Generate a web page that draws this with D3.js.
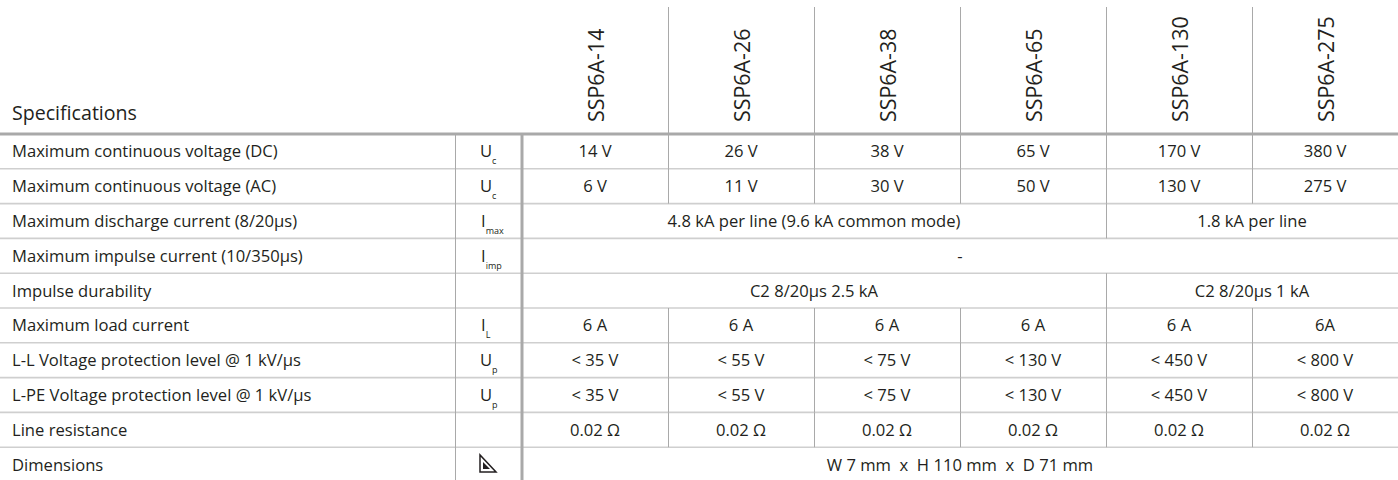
<!DOCTYPE html>
<html>
<head>
<meta charset="utf-8">
<script src="https://cdn.jsdelivr.net/npm/d3@7"></script>
<style>
    html, body { margin: 0; padding: 0; background: #fff; }
    svg { display: block; }
    text { font-family: "Open Sans", "Noto Sans", sans-serif; fill: #231f20; }
</style>
</head>
<body>
<div id="content"></div>
<script>
// ======= data =======
var models = ["SSP6A-14", "SSP6A-26", "SSP6A-38", "SSP6A-65", "SSP6A-130", "SSP6A-275"];
var specLabels = [
    "Maximum continuous voltage (DC)",
    "Maximum continuous voltage (AC)",
    "Maximum discharge current (8/20\u00b5s)",
    "Maximum impulse current (10/350\u00b5s)",
    "Impulse durability",
    "Maximum load current",
    "L-L Voltage protection level @ 1 kV/\u00b5s",
    "L-PE Voltage protection level @ 1 kV/\u00b5s",
    "Line resistance",
    "Dimensions"
];
var symbolMain = ["U", "U", "I", "I", "", "I", "U", "U", "", "icon"];
var symbolSub = ["c", "c", "max", "imp", "", "L", "p", "p", "", ""];

// each cell: [text, number of model columns it spans]
var dcVoltage = [["14 V", 1], ["26 V", 1], ["38 V", 1], ["65 V", 1], ["170 V", 1], ["380 V", 1]];
var acVoltage = [["6 V", 1], ["11 V", 1], ["30 V", 1], ["50 V", 1], ["130 V", 1], ["275 V", 1]];
var dischargeCurrent = [["4.8 kA per line (9.6 kA common mode)", 4], ["1.8 kA per line", 2]];
var impulseCurrent = [["-", 6]];
var impulseDurability = [["C2 8/20\u00b5s 2.5 kA", 4], ["C2 8/20\u00b5s 1 kA", 2]];
var loadCurrent = [["6 A", 1], ["6 A", 1], ["6 A", 1], ["6 A", 1], ["6 A", 1], ["6A", 1]];
var llProtection = [["< 35 V", 1], ["< 55 V", 1], ["< 75 V", 1], ["< 130 V", 1], ["< 450 V", 1], ["< 800 V", 1]];
var lpeProtection = [["< 35 V", 1], ["< 55 V", 1], ["< 75 V", 1], ["< 130 V", 1], ["< 450 V", 1], ["< 800 V", 1]];
var lineResistance = [["0.02 \u03a9", 1], ["0.02 \u03a9", 1], ["0.02 \u03a9", 1], ["0.02 \u03a9", 1], ["0.02 \u03a9", 1], ["0.02 \u03a9", 1]];
var dimensions = [["W 7 mm  x  H 110 mm  x  D 71 mm", 6]];
var rowValues = [dcVoltage, acVoltage, dischargeCurrent, impulseCurrent, impulseDurability,
    loadCurrent, llProtection, lpeProtection, lineResistance, dimensions];

// ======= formatting =======
var width = 1398;
var height = 480;
var headerTop = 7;
var headerBottom = 134;
var rowHeight = 34.8;
var symLeft = 455;
var valLeft = 522;
var symX = 480;
var lineDark = "#a9a9a9";
var lineLight = "#cfcfcf";
var bodyFont = "16.6px";

// ======= scales =======
var xScale = d3.scaleBand()
    .domain(models)
    .range([valLeft, width]);
var yScale = d3.scaleBand()
    .domain(d3.range(specLabels.length))
    .range([headerBottom, headerBottom + rowHeight * specLabels.length]);

// ======= elements =======
var svg = d3.select("#content")
    .append("svg")
        .attr("width", width)
        .attr("height", height);

// ======= row lines =======
svg.append("g")
    .selectAll("line")
    .data(d3.range(1, specLabels.length))
    .enter()
    .append("line")
        .attr("x1", 0)
        .attr("x2", width)
        .attr("y1", function(d) { return yScale(d); })
        .attr("y2", function(d) { return yScale(d); })
        .style("stroke", lineLight)
        .style("stroke-width", 1.6);

// ======= vertical cell lines =======
rowValues.forEach(function(cells, r) {
    var col = 0;
    cells.forEach(function(cell) {
        col += cell[1];
        if (col < models.length) {
            var x = Math.round(xScale(models[col])) + 0.5;
            svg.append("line")
                .attr("x1", x).attr("x2", x)
                .attr("y1", yScale(r))
                .attr("y2", yScale(r) + rowHeight)
                .style("stroke", lineDark)
                .style("stroke-width", 1);
        }
    });
});

// header column lines
svg.append("g")
    .selectAll("line")
    .data(models.slice(1))
    .enter()
    .append("line")
        .attr("x1", function(d) { return Math.round(xScale(d)) + 0.5; })
        .attr("x2", function(d) { return Math.round(xScale(d)) + 0.5; })
        .attr("y1", headerTop)
        .attr("y2", headerBottom)
        .style("stroke", lineDark)
        .style("stroke-width", 1);

// symbol column line
svg.append("line")
    .attr("x1", symLeft + 0.5).attr("x2", symLeft + 0.5)
    .attr("y1", headerBottom).attr("y2", height)
    .style("stroke", lineDark)
    .style("stroke-width", 1);

// thick value divider
svg.append("line")
    .attr("x1", valLeft).attr("x2", valLeft)
    .attr("y1", headerBottom).attr("y2", height)
    .style("stroke", lineDark)
    .style("stroke-width", 3);

// header line
svg.append("line")
    .attr("x1", 0).attr("x2", width)
    .attr("y1", headerBottom).attr("y2", headerBottom)
    .style("stroke", lineDark)
    .style("stroke-width", 3);

// ======= header text =======
svg.append("text")
    .attr("x", 12)
    .attr("y", 120)
    .style("font-size", "19.6px")
    .text("Specifications");

svg.append("g")
    .selectAll("text")
    .data(models)
    .enter()
    .append("text")
        .attr("transform", function(d) {
            return "translate(" + (xScale(d) + xScale.bandwidth() / 2 + 9) + ",122) rotate(-90)";
        })
        .style("font-size", "21.4px")
        .style("text-anchor", "start")
        .text(function(d) { return d; });

// ======= labels =======
svg.append("g")
    .selectAll("text")
    .data(specLabels)
    .enter()
    .append("text")
        .attr("x", 12)
        .attr("y", function(d, i) { return yScale(i) + rowHeight / 2 + 6; })
        .style("font-size", bodyFont)
        .text(function(d) { return d; });

// ======= symbols =======
symbolMain.forEach(function(s, i) {
    var yMid = yScale(i) + rowHeight / 2;
    if (s === "icon") {
        var g = svg.append("g");
        g.append("path")
            .attr("d", "M480,455 L480,472 L496,472 Z")
            .style("fill", "none")
            .style("stroke", "#231f20")
            .style("stroke-width", 1.5)
            .style("stroke-linejoin", "miter");
        g.append("path")
            .attr("d", "M483,462 L483,469 L490,469 Z")
            .style("fill", "#231f20");
    } else if (s !== "") {
        var t = svg.append("text")
            .attr("x", s === "I" ? symX + 1 : symX)
            .attr("y", yMid + 6)
            .style("font-size", bodyFont)
            .style("text-anchor", "start");
        t.append("tspan").text(s);
        t.append("tspan")
            .attr("dy", 7)
            .style("font-size", "9px")
            .text(symbolSub[i]);
    }
});

// ======= values =======
rowValues.forEach(function(cells, r) {
    var col = 0;
    cells.forEach(function(cell) {
        var x0 = xScale(models[col]);
        var x1 = x0 + xScale.bandwidth() * cell[1];
        svg.append("text")
            .attr("x", (x0 + x1) / 2)
            .attr("y", yScale(r) + rowHeight / 2 + 6)
            .style("font-size", bodyFont)
            .style("text-anchor", "middle")
            .style("white-space", "pre")
            .attr("xml:space", "preserve")
            .text(cell[0]);
        col += cell[1];
    });
});
</script>
</body>
</html>
